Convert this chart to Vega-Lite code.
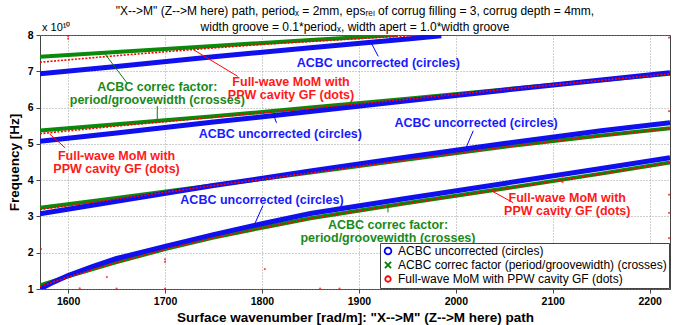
{
  "$schema": "https://vega.github.io/schema/vega-lite/v6.json",
  "autosize": {"type": "none"},
  "width": 630,
  "height": 254,
  "padding": {"left": 40, "top": 35, "right": 17, "bottom": 36},
  "background": "white",
  "config": {
    "font": "Liberation Sans",
    "view": {"stroke": "#444", "strokeWidth": 1},
    "axis": {
      "domain": false,
      "grid": true,
      "gridDash": [1, 2],
      "gridColor": "#888",
      "gridOpacity": 0.8,
      "tickColor": "#444",
      "labelFont": "Liberation Sans",
      "labelFontWeight": "bold",
      "labelColor": "black",
      "labelFontSize": 10.5,
      "labelOverlap": false,
      "titleFont": "Liberation Sans",
      "titleFontWeight": "bold",
      "titleColor": "black",
      "titleFontSize": 13.5
    }
  },
  "title": {
    "text": ["\"X-->M\" (Z-->M here) path, periodₓ = 2mm, epsᵣₑₗ of corrug filling = 3, corrug depth = 4mm,", "width groove = 0.1*periodₓ, width apert = 1.0*width groove"],
    "font": "Liberation Sans",
    "fontSize": 12,
    "fontWeight": "normal",
    "color": "black",
    "lineHeight": 16,
    "offset": -12,
    "anchor": "middle"
  },
  "datasets": {
    "curves": [
      {"series": "u", "band": 1, "k": 1571, "f": 6.93}, {"series": "u", "band": 1, "k": 1650, "f": 7.13}, {"series": "u", "band": 1, "k": 1750, "f": 7.40}, {"series": "u", "band": 1, "k": 1850, "f": 7.65}, {"series": "u", "band": 1, "k": 1950, "f": 7.89}, {"series": "u", "band": 1, "k": 1985, "f": 7.98},
      {"series": "c", "band": 1, "k": 1571, "f": 7.40}, {"series": "c", "band": 1, "k": 1650, "f": 7.53}, {"series": "c", "band": 1, "k": 1750, "f": 7.70}, {"series": "c", "band": 1, "k": 1850, "f": 7.86}, {"series": "c", "band": 1, "k": 1940, "f": 8.0},
      {"series": "m", "band": 1, "k": 1571, "f": 7.25}, {"series": "m", "band": 1, "k": 1650, "f": 7.43}, {"series": "m", "band": 1, "k": 1729, "f": 7.60}, {"series": "m", "band": 1, "k": 1800, "f": 7.74}, {"series": "m", "band": 1, "k": 1900, "f": 7.90}, {"series": "m", "band": 1, "k": 1960, "f": 7.99},
      {"series": "u", "band": 2, "k": 1571, "f": 5.07}, {"series": "u", "band": 2, "k": 1650, "f": 5.30}, {"series": "u", "band": 2, "k": 1750, "f": 5.60}, {"series": "u", "band": 2, "k": 1850, "f": 5.89}, {"series": "u", "band": 2, "k": 1950, "f": 6.19}, {"series": "u", "band": 2, "k": 2050, "f": 6.48}, {"series": "u", "band": 2, "k": 2150, "f": 6.76}, {"series": "u", "band": 2, "k": 2221, "f": 6.96},
      {"series": "c", "band": 2, "k": 1571, "f": 5.37}, {"series": "c", "band": 2, "k": 1650, "f": 5.54}, {"series": "c", "band": 2, "k": 1750, "f": 5.76}, {"series": "c", "band": 2, "k": 1850, "f": 6.00}, {"series": "c", "band": 2, "k": 1950, "f": 6.24}, {"series": "c", "band": 2, "k": 2050, "f": 6.50}, {"series": "c", "band": 2, "k": 2150, "f": 6.75}, {"series": "c", "band": 2, "k": 2221, "f": 6.93},
      {"series": "m", "band": 2, "k": 1571, "f": 5.28}, {"series": "m", "band": 2, "k": 1650, "f": 5.49}, {"series": "m", "band": 2, "k": 1750, "f": 5.73}, {"series": "m", "band": 2, "k": 1850, "f": 5.98}, {"series": "m", "band": 2, "k": 1950, "f": 6.23}, {"series": "m", "band": 2, "k": 2050, "f": 6.50}, {"series": "m", "band": 2, "k": 2150, "f": 6.75}, {"series": "m", "band": 2, "k": 2221, "f": 6.93},
      {"series": "u", "band": 3, "k": 1571, "f": 3.07}, {"series": "u", "band": 3, "k": 1650, "f": 3.42}, {"series": "u", "band": 3, "k": 1750, "f": 3.85}, {"series": "u", "band": 3, "k": 1850, "f": 4.25}, {"series": "u", "band": 3, "k": 1950, "f": 4.64}, {"series": "u", "band": 3, "k": 2050, "f": 5.01}, {"series": "u", "band": 3, "k": 2150, "f": 5.36}, {"series": "u", "band": 3, "k": 2221, "f": 5.58},
      {"series": "c", "band": 3, "k": 1571, "f": 3.24}, {"series": "c", "band": 3, "k": 1650, "f": 3.51}, {"series": "c", "band": 3, "k": 1750, "f": 3.86}, {"series": "c", "band": 3, "k": 1850, "f": 4.21}, {"series": "c", "band": 3, "k": 1950, "f": 4.57}, {"series": "c", "band": 3, "k": 2050, "f": 4.92}, {"series": "c", "band": 3, "k": 2150, "f": 5.23}, {"series": "c", "band": 3, "k": 2221, "f": 5.43},
      {"series": "m", "band": 3, "k": 1571, "f": 3.19}, {"series": "m", "band": 3, "k": 1650, "f": 3.48}, {"series": "m", "band": 3, "k": 1750, "f": 3.85}, {"series": "m", "band": 3, "k": 1850, "f": 4.20}, {"series": "m", "band": 3, "k": 1950, "f": 4.56}, {"series": "m", "band": 3, "k": 2050, "f": 4.91}, {"series": "m", "band": 3, "k": 2150, "f": 5.22}, {"series": "m", "band": 3, "k": 2221, "f": 5.42},
      {"series": "u", "band": 4, "k": 1571, "f": 1.0}, {"series": "u", "band": 4, "k": 1585, "f": 1.19}, {"series": "u", "band": 4, "k": 1600, "f": 1.37}, {"series": "u", "band": 4, "k": 1625, "f": 1.62}, {"series": "u", "band": 4, "k": 1650, "f": 1.84}, {"series": "u", "band": 4, "k": 1700, "f": 2.17}, {"series": "u", "band": 4, "k": 1750, "f": 2.50}, {"series": "u", "band": 4, "k": 1800, "f": 2.80}, {"series": "u", "band": 4, "k": 1850, "f": 3.08}, {"series": "u", "band": 4, "k": 1950, "f": 3.50}, {"series": "u", "band": 4, "k": 2050, "f": 3.91}, {"series": "u", "band": 4, "k": 2150, "f": 4.32}, {"series": "u", "band": 4, "k": 2221, "f": 4.62},
      {"series": "c", "band": 4, "k": 1571, "f": 1.10}, {"series": "c", "band": 4, "k": 1600, "f": 1.35}, {"series": "c", "band": 4, "k": 1650, "f": 1.74}, {"series": "c", "band": 4, "k": 1700, "f": 2.10}, {"series": "c", "band": 4, "k": 1750, "f": 2.42}, {"series": "c", "band": 4, "k": 1800, "f": 2.69}, {"series": "c", "band": 4, "k": 1850, "f": 2.95}, {"series": "c", "band": 4, "k": 1950, "f": 3.37}, {"series": "c", "band": 4, "k": 2050, "f": 3.77}, {"series": "c", "band": 4, "k": 2150, "f": 4.18}, {"series": "c", "band": 4, "k": 2221, "f": 4.49},
      {"series": "m", "band": 4, "k": 1571, "f": 1.07}, {"series": "m", "band": 4, "k": 1600, "f": 1.33}, {"series": "m", "band": 4, "k": 1650, "f": 1.73}, {"series": "m", "band": 4, "k": 1700, "f": 2.09}, {"series": "m", "band": 4, "k": 1750, "f": 2.41}, {"series": "m", "band": 4, "k": 1800, "f": 2.68}, {"series": "m", "band": 4, "k": 1850, "f": 2.94}, {"series": "m", "band": 4, "k": 1950, "f": 3.36}, {"series": "m", "band": 4, "k": 2050, "f": 3.76}, {"series": "m", "band": 4, "k": 2150, "f": 4.17}, {"series": "m", "band": 4, "k": 2221, "f": 4.48}
    ],
    "strays": [
      {"k": 1600, "f": 7.97}, {"k": 1600, "f": 7.9}, {"k": 1572, "f": 2.1}, {"k": 1640, "f": 1.33}, {"k": 1700, "f": 1.82}, {"k": 1700, "f": 1.75},
      {"k": 1803, "f": 1.55}, {"k": 1612, "f": 1.02}, {"k": 1650, "f": 1.01}, {"k": 1700, "f": 1.01}, {"k": 1860, "f": 1.01}, {"k": 1880, "f": 1.01},
      {"k": 1925, "f": 1.01}, {"k": 1950, "f": 1.01}, {"k": 2020, "f": 1.01}, {"k": 2220, "f": 7.93}, {"k": 2220, "f": 5.9}, {"k": 2220, "f": 3.6},
      {"k": 2220, "f": 3.1}, {"k": 2220, "f": 2.4}, {"k": 2110, "f": 4.1}, {"k": 2110, "f": 3.95}
    ],
    "notes": [
      {"series": "u", "k": 1920, "f": 7.22, "text": "ACBC uncorrected (circles)"},
      {"series": "u", "k": 1819, "f": 5.27, "text": "ACBC uncorrected (circles)"},
      {"series": "u", "k": 2021, "f": 5.57, "text": "ACBC uncorrected (circles)"},
      {"series": "u", "k": 1800, "f": 3.44, "text": "ACBC uncorrected (circles)"},
      {"series": "c", "k": 1692, "f": 6.57, "text": "ACBC correc factor:\nperiod/groovewidth (crosses)"},
      {"series": "c", "k": 1930, "f": 2.76, "text": "ACBC correc factor:\nperiod/groovewidth (crosses)"},
      {"series": "m", "k": 1830, "f": 6.7, "text": "Full-wave MoM with\nPPW cavity GF (dots)"},
      {"series": "m", "k": 1650, "f": 4.66, "text": "Full-wave MoM with\nPPW cavity GF (dots)"},
      {"series": "m", "k": 2115, "f": 3.51, "text": "Full-wave MoM with\nPPW cavity GF (dots)"}
    ],
    "arrows": [
      {"series": "u", "k": 1920, "f": 7.41, "k2": 1913, "f2": 7.77},
      {"series": "u", "k": 1815, "f": 5.58, "k2": 1812, "f2": 5.8},
      {"series": "u", "k": 2018, "f": 5.36, "k2": 2011, "f2": 4.92},
      {"series": "u", "k": 1801, "f": 3.3, "k2": 1793, "f2": 2.82},
      {"series": "c", "k": 1661, "f": 6.67, "k2": 1638, "f2": 7.48},
      {"series": "c", "k": 1692, "f": 6.04, "k2": 1692, "f2": 5.68},
      {"series": "c", "k": 1930, "f": 3.11, "k2": 1930, "f2": 3.3},
      {"series": "m", "k": 1775, "f": 6.86, "k2": 1729, "f2": 7.6},
      {"series": "m", "k": 1597, "f": 4.89, "k2": 1581, "f2": 5.27},
      {"series": "m", "k": 2059, "f": 3.38, "k2": 2038, "f2": 3.69}
    ],
    "corner": [{"k": 1571, "f": 8}]
  },
  "encoding": {
    "x": {"field": "k", "type": "quantitative", "scale": {"domain": [1571, 2221], "nice": false, "zero": false},
          "axis": {"values": [1600, 1700, 1800, 1900, 2000, 2100, 2200], "format": "d", "labelOverlap": false, "title": "Surface wavenumber [rad/m]: \"X-->M\" (Z-->M here) path", "tickSize": 4, "labelPadding": 3, "titlePadding": 4}},
    "y": {"field": "f", "type": "quantitative", "scale": {"domain": [1, 8], "nice": false, "zero": false},
          "axis": {"values": [1, 2, 3, 4, 5, 6, 7, 8], "tickCount": 8, "format": "d", "labelOverlap": false, "title": "Frequency [Hz]", "tickSize": 4, "labelPadding": 3, "titlePadding": 6}}
  },
  "resolve": {"scale": {"color": "independent", "shape": "independent", "size": "independent"}},
  "layer": [
    {
      "data": {"name": "curves"},
      "mark": {"type": "point", "filled": false, "strokeWidth": 1.8, "opacity": 0, "clip": true},
      "encoding": {
        "color": {"field": "series", "type": "nominal",
                  "scale": {"domain": ["u", "c", "m"], "range": ["#0000ff", "#008000", "#ff0000"]},
                  "legend": {"orient": "bottom-right", "offset": 1, "title": null, "fillColor": "white", "strokeColor": "#444", "padding": 2,
                             "labelFont": "Liberation Sans", "labelFontSize": 12, "labelColor": "black", "labelLimit": 400, "rowPadding": 0,
                             "symbolOpacity": 1, "symbolStrokeWidth": 1.8,
                             "labelExpr": "datum.label == 'u' ? 'ACBC uncorrected (circles)' : datum.label == 'c' ? 'ACBC correc factor (period/groovewidth) (crosses)' : 'Full-wave MoM with PPW cavity GF (dots)'"}},
        "shape": {"field": "series", "type": "nominal",
                  "scale": {"domain": ["u", "c", "m"], "range": ["circle", "M-1,-1L1,1M1,-1L-1,1", "circle"]}},
        "size": {"field": "series", "type": "nominal",
                 "scale": {"domain": ["u", "c", "m"], "range": [45, 30, 3]}}
      }
    },
    {
      "data": {"name": "curves"},
      "transform": [{"filter": "datum.series == 'c'"}],
      "mark": {"type": "line", "color": "#0a8a0a", "strokeWidth": 4, "clip": true},
      "encoding": {"detail": {"field": "band", "type": "nominal"}}
    },
    {
      "data": {"name": "curves"},
      "transform": [{"filter": "datum.series == 'u'"}],
      "mark": {"type": "line", "color": "#1010ee", "strokeWidth": 5, "clip": true},
      "encoding": {"detail": {"field": "band", "type": "nominal"}}
    },
    {
      "data": {"name": "curves"},
      "transform": [{"filter": "datum.series == 'm'"}],
      "mark": {"type": "line", "color": "#ff0000", "strokeWidth": 1.6, "strokeDash": [2, 1.5], "clip": true},
      "encoding": {"detail": {"field": "band", "type": "nominal"}}
    },
    {
      "data": {"name": "strays"},
      "mark": {"type": "point", "filled": true, "color": "#ff0000", "size": 5, "clip": true},
      "encoding": {}
    },
    {
      "data": {"name": "arrows"},
      "mark": {"type": "rule", "strokeWidth": 1},
      "encoding": {
        "x2": {"field": "k2"}, "y2": {"field": "f2"},
        "color": {"field": "series", "type": "nominal", "legend": null,
                  "scale": {"domain": ["u", "c", "m"], "range": ["#0000ff", "#008000", "#ff0000"]}}
      }
    },
    {
      "data": {"name": "notes"},
      "mark": {"type": "text", "font": "Liberation Sans", "fontWeight": "bold", "fontSize": 12.5, "lineHeight": 13, "lineBreak": "\n", "baseline": "middle", "align": "center"},
      "encoding": {
        "text": {"field": "text"},
        "color": {"field": "series", "type": "nominal", "legend": null,
                  "scale": {"domain": ["u", "c", "m"], "range": ["#1a1aff", "#1a8a1a", "#ff1a1a"]}}
      }
    },
    {
      "data": {"name": "corner"},
      "mark": {"type": "text", "text": "x 10¹⁰", "font": "Liberation Sans", "fontSize": 11, "align": "left", "baseline": "bottom", "dx": 2, "dy": -2, "color": "black"},
      "encoding": {}
    }
  ]
}
